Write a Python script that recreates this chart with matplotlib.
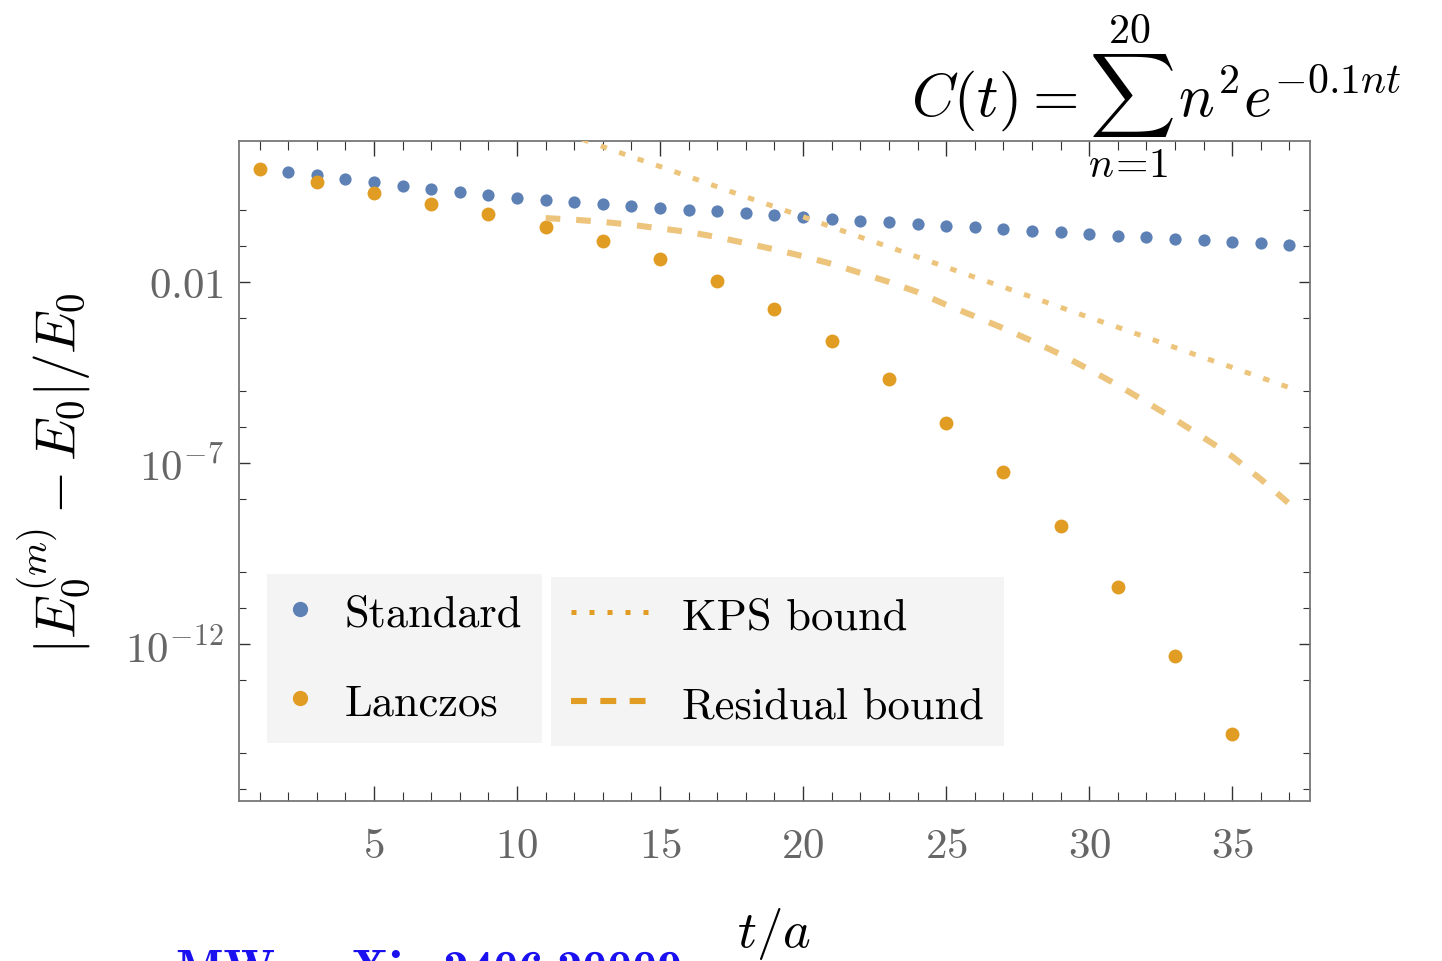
import matplotlib
matplotlib.use("Agg")
import matplotlib.pyplot as plt
import numpy as np
from matplotlib.lines import Line2D
from matplotlib.ticker import FixedLocator, FixedFormatter, NullFormatter

plt.rcParams['mathtext.fontset'] = 'cm'
plt.rcParams['font.family'] = 'serif'
plt.rcParams['font.serif'] = ['cmr10']
plt.rcParams['axes.unicode_minus'] = False
plt.rcParams['axes.formatter.use_mathtext'] = True

# values, stored as log10 of |E0^(m) - E0| / E0
t_std = list(range(1, 38))
std_log10 = [1.110, 1.050, 0.965, 0.850, 0.760, 0.650, 0.560, 0.485, 0.400, 0.330,
             0.272, 0.210, 0.155, 0.090, 0.046, 0.000, -0.046, -0.101, -0.160, -0.204,
             -0.250, -0.306, -0.352, -0.398, -0.444, -0.491, -0.537, -0.583, -0.630, -0.676,
             -0.722, -0.759, -0.806, -0.852, -0.889, -0.935, -0.981]

t_lanc = list(range(1, 36, 2))
lanc_log10 = [1.110, 0.775, 0.455, 0.165, -0.135, -0.468, -0.870, -1.360, -1.980,
              -2.740, -3.640, -4.680, -5.890, -7.240, -8.750, -10.430, -12.330, -14.480]

t_bound = list(range(11, 38))
kps_log10 = [2.30, 2.02, 1.74, 1.46, 1.19, 0.91, 0.63, 0.35, 0.08, -0.20,
             -0.48, -0.76, -1.03, -1.31, -1.59, -1.87, -2.14, -2.42, -2.70, -2.98,
             -3.25, -3.53, -3.81, -4.09, -4.36, -4.64, -4.92]
resid_log10 = [-0.235, -0.28, -0.34, -0.42, -0.52, -0.62, -0.76, -0.93, -1.10, -1.29,
               -1.50, -1.75, -2.00, -2.28, -2.63, -2.95, -3.28, -3.63, -4.00, -4.42,
               -4.85, -5.32, -5.80, -6.30, -6.82, -7.45, -8.13]

xticks = [5, 10, 15, 20, 25, 30, 35]
yticks = [1e-2, 1e-7, 1e-12]
ytick_labels = [r'$0.01$', r'$10^{-7}$', r'$10^{-12}$']
y_minor = [1e0, 1e-1, 1e-3, 1e-5, 1e-6, 1e-8, 1e-10, 1e-11, 1e-13, 1e-15, 1e-16]

blue = '#5E81B5'
orange = '#E19C24'
light = '#EDC47C'

fig = plt.figure(figsize=(14.42, 9.62), dpi=100)
ax = fig.add_axes([0.1657, 0.1663, 0.7428, 0.6861])

ax.plot(t_std, 10 ** np.array(std_log10), 'o', color=blue, ms=8.8, mec='none', zorder=3)
ax.plot(t_lanc, 10 ** np.array(lanc_log10), 'o', color=orange, ms=10, mec='none', zorder=3)
ax.plot(t_bound, 10 ** np.array(kps_log10), color=light, lw=3.6, ls=(0, (1.3, 2.6)),
        dash_capstyle='butt', zorder=4)
ax.plot(t_bound, 10 ** np.array(resid_log10), color=light, lw=4.4, ls=(0, (2.4, 2.6)),
        dash_capstyle='butt', zorder=4)

ax.set_yscale('log')
ax.set_xlim(0.28, 37.72)
ax.set_ylim(10 ** -16.34, 10 ** 1.895)

ax.xaxis.set_major_locator(FixedLocator(xticks))
ax.xaxis.set_major_formatter(FixedFormatter([r'$%d$' % v for v in xticks]))
ax.xaxis.set_minor_locator(FixedLocator(list(range(1, 38))))
ax.yaxis.set_major_locator(FixedLocator(yticks))
ax.yaxis.set_major_formatter(FixedFormatter(ytick_labels))
ax.yaxis.set_minor_locator(FixedLocator(y_minor))
ax.yaxis.set_minor_formatter(NullFormatter())

ax.tick_params(which='both', direction='in', top=True, right=True, color='#333333',
               labelcolor='#666666', labelsize=31)
ax.tick_params(axis='x', which='major', length=11, width=1, pad=19)
ax.tick_params(axis='x', which='minor', length=6.5, width=0.8)
ax.tick_params(axis='y', which='major', length=8, width=1, pad=11)
ax.tick_params(axis='y', which='minor', length=5, width=0.8)
for s in ax.spines.values():
    s.set_color('#777777')
    s.set_linewidth(1.3)

# two separate legend boxes
h1 = [Line2D([], [], ls='none', marker='o', color=blue, ms=11, mec='none'),
      Line2D([], [], ls='none', marker='o', color=orange, ms=11, mec='none')]
leg1 = ax.legend(h1, ['Standard', 'Lanczos'], loc='lower left',
                 bbox_to_anchor=(0.0261, 0.0879), borderaxespad=0, fontsize=32,
                 handlelength=0.6, handletextpad=0.7, borderpad=0.45, labelspacing=1.1,
                 frameon=True, fancybox=False, facecolor='#F4F4F4', edgecolor='none',
                 framealpha=1)
ax.add_artist(leg1)
h2 = [Line2D([], [], color=orange, lw=3.6, ls=(0, (1.0, 2.6)), dash_capstyle='butt'),
      Line2D([], [], color=orange, lw=4.4, ls=(0, (2.6, 2.2)), dash_capstyle='butt')]
leg2 = ax.legend(h2, ['KPS bound', 'Residual bound'], loc='lower left',
                 bbox_to_anchor=(0.2914, 0.0833), borderaxespad=0, fontsize=32,
                 handlelength=1.8, handletextpad=0.7, borderpad=0.45, labelspacing=1.1,
                 frameon=True, fancybox=False, facecolor='#F4F4F4', edgecolor='none',
                 framealpha=1)

fig.text(0.0381, 0.5083, r'$|E_0^{(m)} - E_0|/E_0$', rotation=90, ha='center',
         va='center', fontsize=40)
fig.text(0.537, 0.016, r'$t/a$', ha='center', va='baseline', fontsize=38)
fig.text(0.8017, 0.879, r'$C(t) = \sum_{n\!=\!1}^{20}\, n^2 e^{-0.1nt}$', ha='center',
         va='baseline', fontsize=43)
fig.text(0.122, -0.024, 'MW, arXiv:2406.20009', ha='left', va='baseline',
         fontsize=36, color='#1a10f0', family='cmb10')

fig.savefig('out.png', dpi=100)
